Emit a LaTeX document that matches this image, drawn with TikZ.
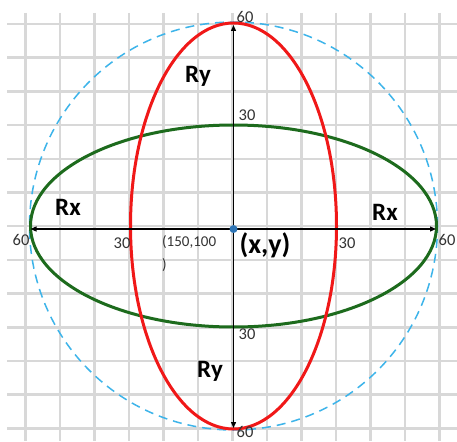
\documentclass[tikz,border=0pt]{standalone}
\usepackage{fontspec}
\setmainfont{Carlito}
\usetikzlibrary{arrows.meta}
\definecolor{gridgray}{HTML}{D8D8D8}
\definecolor{ered}{HTML}{F01818}
\definecolor{egreen}{HTML}{1D6B1D}
\definecolor{cblue}{HTML}{3DB4EA}
\definecolor{dotblue}{HTML}{2E75B6}
\definecolor{numgray}{HTML}{333333}
\begin{document}
\begin{tikzpicture}[x=1pt,y=-1pt,
  gridline/.style={gridgray, line width=2.5pt},
  num/.style={font=\fontsize{16.5}{16.5}\selectfont, text=numgray, inner sep=0pt},
  rlabel/.style={font=\fontsize{25}{25}\selectfont\bfseries, inner sep=0pt},
  axisline/.style={line width=1.3pt, {Triangle[length=6pt,width=5pt]}-{Triangle[length=6pt,width=5pt]}},
]
\useasboundingbox[fill=white] (0,0) rectangle (457,441);
% grid
\foreach \i in {0,...,12} {
  \draw[gridline] (25.5+34.48*\i, 13) -- (25.5+34.48*\i, 441);
  \draw[gridline] (7, 24+33.7*\i) -- (457, 24+33.7*\i);
}
% dashed circle
\draw[cblue, line width=1.5pt, dash pattern=on 9pt off 6pt] (233.5,226) circle[radius=204pt];
% ellipses
\draw[egreen, line width=3pt] (233.5,226) ellipse[x radius=203pt, y radius=101pt];
\draw[ered, line width=3pt] (233.5,226) ellipse[x radius=103pt, y radius=203pt];
% axes
\coordinate (L) at (30.5,229);
\coordinate (R) at (436,229);
\coordinate (T) at (233.5,25);
\coordinate (B) at (233.5,428);
\draw[axisline] (L) -- (R);
\draw[axisline] (T) -- (B);
\node[circle, fill=dotblue, minimum size=8pt, inner sep=0pt] (c) at (233.5,229) {};
% numbers
\node[num] (t60) at (245,17) {60};
\node[num] (t30) at (247,115) {30};
\node[num] (l60) at (21,240) {60};
\node[num] (l30) at (122,243) {30};
\node[num] (r30) at (347,243) {30};
\node[num] (r60) at (447,240) {60};
\node[num] (b30) at (247,334) {30};
\node[num] (b60) at (245,432) {60};
% R labels
\node[rlabel] (ry1) at (198,76) {Ry};
\node[rlabel] (ry2) at (210,371) {Ry};
\node[rlabel] (rx1) at (68,207) {Rx};
\node[rlabel] (rx2) at (385,212) {Rx};
\node[font=\fontsize{28}{28}\selectfont\bfseries, inner sep=0pt] (xy) at (265,245) {(x,y)};
\node[font=\fontsize{15}{23}\selectfont, text=numgray, inner sep=0pt, align=left, anchor=north west] (pt) at (162,235) {(150,100\\)};
\end{tikzpicture}
\end{document}
